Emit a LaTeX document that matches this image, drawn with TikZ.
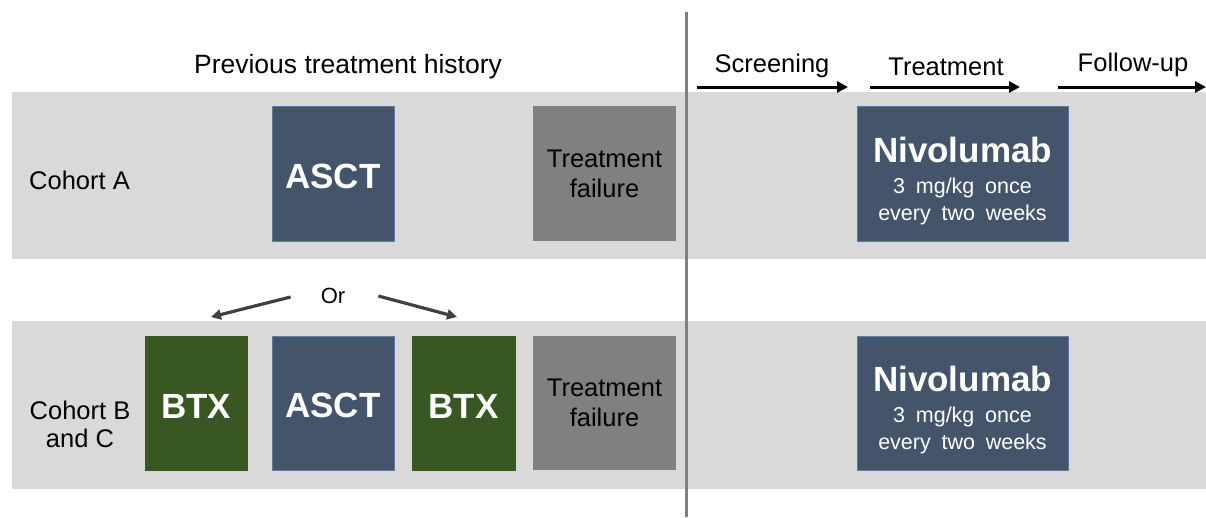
\documentclass[tikz,border=0pt]{standalone}
\usepackage{fontspec}
\setmainfont{Liberation Sans}
\usetikzlibrary{arrows.meta}
\definecolor{bandgray}{HTML}{D9D9D9}
\definecolor{slate}{HTML}{44546A}
\definecolor{slateline}{HTML}{5B7BA3}
\definecolor{btxgreen}{HTML}{385723}
\definecolor{failgray}{HTML}{808080}
\definecolor{orgray}{HTML}{404040}
\newcommand{\widespaces}{\spaceskip 0.5em\relax}
\newcommand{\nivotitle}{\rule{0pt}{40pt}{\fontsize{35}{36}\selectfont\bfseries Nivolumab}}

\begin{document}
\begin{tikzpicture}[
  x=1pt, y=-1pt,
  box/.style={inner sep=0, align=center, text=white,
    font=\fontsize{35}{36}\selectfont\bfseries},
  ascbox/.style={box, fill=slate, draw=slateline, line width=0.8,
    minimum width=122pt, execute at begin node=\rule{0pt}{30pt}},
  btxbox/.style={box, fill=btxgreen, draw=btxgreen, line width=0.8,
    execute at begin node=\rule{0pt}{30pt}},
  failbox/.style={box, fill=failgray, text=black, minimum width=143pt,
    font=\fontsize{25.5}{30}\selectfont},
  nivobox/.style={ascbox, minimum width=211pt,
    font=\fontsize{21.5}{27}\selectfont\widespaces,
    execute at begin node={}},
  plain/.style={inner sep=0, align=center, font=\fontsize{25.5}{28}\selectfont},
  hdrarrow/.style={line width=3, -{Triangle[length=11pt,width=11pt]}},
  orarrow/.style={orgray, line width=3.2, -{Triangle[length=10pt,width=10pt]}},
]
\useasboundingbox (0,0) rectangle (1206,517);
% bands
\fill[bandgray] (12,92) rectangle (1206,259);
\fill[bandgray] (12,321) rectangle (1206,489);
\draw[failgray, line width=3] (686,12) -- (686,517);

% headers
\node[plain, font=\fontsize{26.5}{28}\selectfont] (hist) at (348,67) {Previous treatment history};
\node[plain] (scr) at (772,66) {Screening};
\node[plain] (trt) at (946,67) {Treatment};
\node[plain] (fup) at (1133,65) {Follow-up};
\coordinate (scr-a) at (697,87);
\coordinate (scr-b) at (848,87);
\coordinate (trt-a) at (870,87);
\coordinate (trt-b) at (1020,87);
\coordinate (fup-a) at (1058,87);
\coordinate (fup-b) at (1206,87);
\draw[hdrarrow] (scr-a) -- (scr-b);
\draw[hdrarrow] (trt-a) -- (trt-b);
\draw[hdrarrow] (fup-a) -- (fup-b);

% cohort A
\node[plain, anchor=west] (cohA) at (29,180) {Cohort A};
\node[ascbox, minimum height=135pt] (asctA) at (333,173.5) {ASCT};
\node[failbox, minimum height=135pt] (failA) at (604.5,173.5) {Treatment\\failure};
\node[nivobox, minimum height=135pt] (nivoA) at (962.5,173.5)
  {\nivotitle\\[4pt]3 mg/kg once\\every two weeks};

% or
\node[plain, font=\fontsize{22}{24}\selectfont] (or) at (333,296) {Or};
\coordinate (orL) at (211,317);
\coordinate (orR) at (457,317);
\draw[orarrow] (or.west) ++(-30,1) -- (orL);
\draw[orarrow] (or.east) ++(33,0) -- (orR);

% cohort B and C
\node[plain] (cohBC) at (80,424) {Cohort B\\and C};
\node[btxbox, minimum width=102pt, minimum height=134pt] (btxL) at (196,403) {BTX};
\node[ascbox, minimum height=134pt] (asctB) at (333,403) {ASCT};
\node[btxbox, minimum width=103pt, minimum height=134pt] (btxR) at (463.5,403) {BTX};
\node[failbox, minimum height=134pt] (failB) at (604.5,403) {Treatment\\failure};
\node[nivobox, minimum height=134pt] (nivoB) at (962.5,403)
  {\nivotitle\\[4pt]3 mg/kg once\\every two weeks};
\end{tikzpicture}
\end{document}
